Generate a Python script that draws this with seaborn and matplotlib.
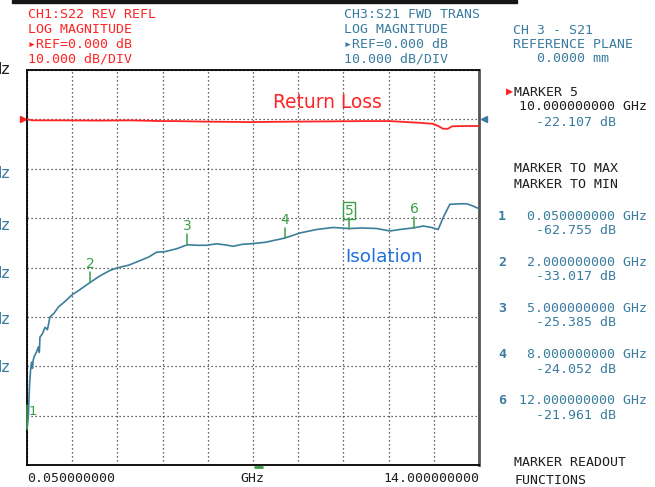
import numpy as np
import pandas as pd
import matplotlib
matplotlib.use("Agg")
import matplotlib.pyplot as plt
import matplotlib.transforms as mtransforms
from matplotlib.patches import Rectangle
import seaborn as sns

# ---------------------------------------------------------------
# data (GHz / dB)
# ---------------------------------------------------------------
iso_freq = [0.05, 0.09, 0.13, 0.16, 0.19, 0.22, 0.24, 0.28, 0.33, 0.40, 0.43, 0.45,
            0.52, 0.61, 0.68, 0.76, 0.88, 1.02, 1.20, 1.43, 1.70, 2.00, 2.30, 2.61,
            2.82, 3.20, 3.54, 3.80, 4.05, 4.30, 4.67, 5.00, 5.30, 5.60, 5.90, 6.15,
            6.41, 6.70, 6.93, 7.40, 8.00, 8.48, 8.99, 9.50, 10.00, 10.40, 10.84,
            11.25, 11.56, 12.00, 12.28, 12.54, 12.74, 12.90, 13.10, 13.40, 13.62,
            13.80, 14.00]
iso_db = [-62.76, -60.3, -53.5, -50.8, -49.2, -50.4, -48.8, -47.9, -47.3, -46.1, -47.2, -44.1,
          -43.5, -42.1, -42.6, -40.0, -39.3, -38.0, -37.0, -35.6, -34.4, -33.02, -31.7, -30.6,
          -30.1, -29.5, -28.6, -27.9, -26.9, -26.8, -26.2, -25.39, -25.5, -25.5, -25.2, -25.4,
          -25.7, -25.3, -25.2, -24.9, -24.05, -23.0, -22.3, -21.9, -22.11, -22.0, -22.1,
          -22.6, -22.3, -21.96, -21.6, -21.9, -22.3, -19.8, -17.2, -17.1, -17.1,
          -17.5, -18.1]

rl_freq = [0.05, 0.24, 1.20, 2.30, 3.23, 4.15, 4.65, 5.50, 6.93, 7.60, 8.48, 9.50,
           10.40, 11.25, 12.18, 12.58, 12.73, 12.89, 13.04, 13.17, 13.60, 14.00]
rl_db = [0.0, -0.2, -0.2, -0.25, -0.2, -0.34, -0.35, -0.45, -0.55, -0.5, -0.45, -0.4,
         -0.35, -0.35, -0.7, -0.9, -1.3, -1.9, -1.9, -1.4, -1.35, -1.35]

marker_ids = ["1", "2", "3", "4", "5", "6"]
marker_freq = [0.05, 2.0, 5.0, 8.0, 10.0, 12.0]
marker_db = [-62.755, -33.017, -25.385, -24.052, -22.107, -21.961]

f_start, f_stop = 0.05, 14.0
ref_db, db_div = 0.0, 10.0

# ---------------------------------------------------------------
RED = "#ff2424"
BLUE = "#3a7ca0"
TRACE = "#3d7e9c"
GREEN = "#3a9e46"
BLACK = "#1e1e1e"

sns.set_style("white")
W, H = 655, 487
fig = plt.figure(figsize=(W / 100, H / 100), dpi=100)
ax = fig.add_axes([27 / W, 1 - 465 / H, 452 / W, 395 / H])

df_iso = pd.DataFrame({"freq": iso_freq, "db": iso_db})
df_rl = pd.DataFrame({"freq": rl_freq, "db": rl_db})
sns.lineplot(data=df_rl, x="freq", y="db", ax=ax, color=RED, lw=1.3,
             estimator=None, sort=False, zorder=4)
sns.lineplot(data=df_iso, x="freq", y="db", ax=ax, color=TRACE, lw=1.2,
             estimator=None, sort=False, zorder=4)

ax.set_xlim(f_start, f_stop)
ax.set_ylim(ref_db - 7 * db_div, ref_db + db_div)
ax.set_xticks(np.linspace(f_start, f_stop, 11))
ax.set_yticks(np.arange(-70, 11, 10))
ax.tick_params(length=0, labelbottom=False, labelleft=False)
ax.set_xlabel("")
ax.set_ylabel("")
ax.grid(True, color="#333333", linestyle=(0, (1, 2.2)), lw=0.9)
for side in ["left", "bottom", "top"]:
    ax.spines[side].set_color("black")
    ax.spines[side].set_linewidth(1.3)
ax.spines["right"].set_color("#555555")
ax.spines["right"].set_linewidth(2)

# reference level pointers
bt = mtransforms.blended_transform_factory(ax.transAxes, ax.transData)
ax.plot([-0.009], [ref_db], marker=">", color=RED, ms=5, transform=bt, clip_on=False)
ax.plot([1.011], [ref_db], marker="<", color=BLUE, ms=5, transform=bt, clip_on=False)
ax.plot([0.504, 0.52], [-0.004, -0.004], color=GREEN, lw=2, transform=ax.transAxes,
        clip_on=False)

# marker flags on the isolation trace
for mid, f, db in zip(marker_ids, marker_freq, marker_db):
    if mid == "1":
        ax.plot([f, f], [db, db + 5.0], color=GREEN, lw=1.1, clip_on=False, zorder=5)
        ax.text(f + 0.06, db + 3.6, mid, color=GREEN, fontsize=9.5, ha="left", va="center",
                family="DejaVu Sans")
        continue
    ax.plot([f, f], [db, db + 2.1], color=GREEN, lw=1.1, zorder=5)
    if mid == "5":
        ax.text(f, db + 2.2, mid, color=GREEN, fontsize=10, ha="center", va="bottom",
                family="DejaVu Sans",
                bbox=dict(boxstyle="square,pad=0.12", fc="none", ec=GREEN, lw=1))
    else:
        ax.text(f, db + 2.3, mid, color=GREEN, fontsize=10, ha="center", va="bottom",
                family="DejaVu Sans")

fig.text(273 / W, 1 - 102 / H, "Return Loss", color=RED, fontsize=13.4, ha="left",
         va="center", family="DejaVu Sans")
fig.text(345 / W, 1 - 257 / H, "Isolation", color="#1f70dc", fontsize=13.2, ha="left",
         va="center", family="DejaVu Sans")

# ---------------------------------------------------------------
# instrument annotation text
# ---------------------------------------------------------------
MONO = ["DejaVu Sans Mono", "DejaVu Sans"]


def put(x, y, s, color, ha="left", weight="normal", size=9.5):
    fig.text(x / W, 1 - y / H, s, color=color, fontsize=size, ha=ha, va="center",
             family=MONO, fontweight=weight)


fig.patches.append(Rectangle((12 / W, 1 - 3 / H), 505 / W, 3 / H, transform=fig.transFigure,
                             color="#161616", zorder=0))

ch1 = ["CH1:S22 REV REFL", "LOG MAGNITUDE", "\u25b8REF=0.000 dB", "10.000 dB/DIV"]
ch3 = ["CH3:S21 FWD TRANS", "LOG MAGNITUDE", "\u25b8REF=0.000 dB", "10.000 dB/DIV"]
for i, (a, b) in enumerate(zip(ch1, ch3)):
    put(28, 15 + i * 14.6, a, RED)
    put(344, 15 + i * 14.6, b, BLUE)
put(513, 30, "CH 3 - S21", BLUE)
put(513, 44, "REFERENCE PLANE", BLUE)
put(537, 59, "0.0000 mm", BLUE)

# cut-off frequency labels of the neighbouring panel (clipped at the left edge)
for y in [173, 226, 273, 320, 367]:
    fig.text(-9 / W, 1 - y / H, "Hz", color=BLUE, fontsize=11, ha="left", va="center")
fig.text(-9 / W, 1 - 70 / H, "Hz", color=BLACK, fontsize=11, ha="left", va="center")

# active marker block
i5 = marker_ids.index("5")
put(506, 92, "\u25b6", RED, size=8.5)
put(514, 92, "MARKER 5", BLACK)
put(647, 107, f"{marker_freq[i5]:.9f} GHz", BLACK, ha="right")
put(616, 122, f"{marker_db[i5]:.3f} dB", BLUE, ha="right")
put(514, 168, "MARKER TO MAX", BLACK)
put(514, 184, "MARKER TO MIN", BLACK)

row_y = {"1": 216, "2": 262, "3": 308, "4": 355, "6": 401}
for mid, f, db in zip(marker_ids, marker_freq, marker_db):
    if mid not in row_y:
        continue
    y = row_y[mid]
    put(498, y, mid, BLUE, weight="bold", size=9.5)
    put(647, y, f"{f:.9f} GHz", BLUE, ha="right")
    put(616, y + 14.5, f"{db:.3f} dB", BLUE, ha="right")

put(514, 463, "MARKER READOUT", BLACK)
put(514, 480, "FUNCTIONS", BLACK)

put(27, 479, f"{f_start:.9f}", BLACK)
put(252, 479, "GHz", BLACK, ha="center")
put(479, 479, f"{f_stop:.9f}", BLACK, ha="right")

fig.savefig("out.png", dpi=100)
